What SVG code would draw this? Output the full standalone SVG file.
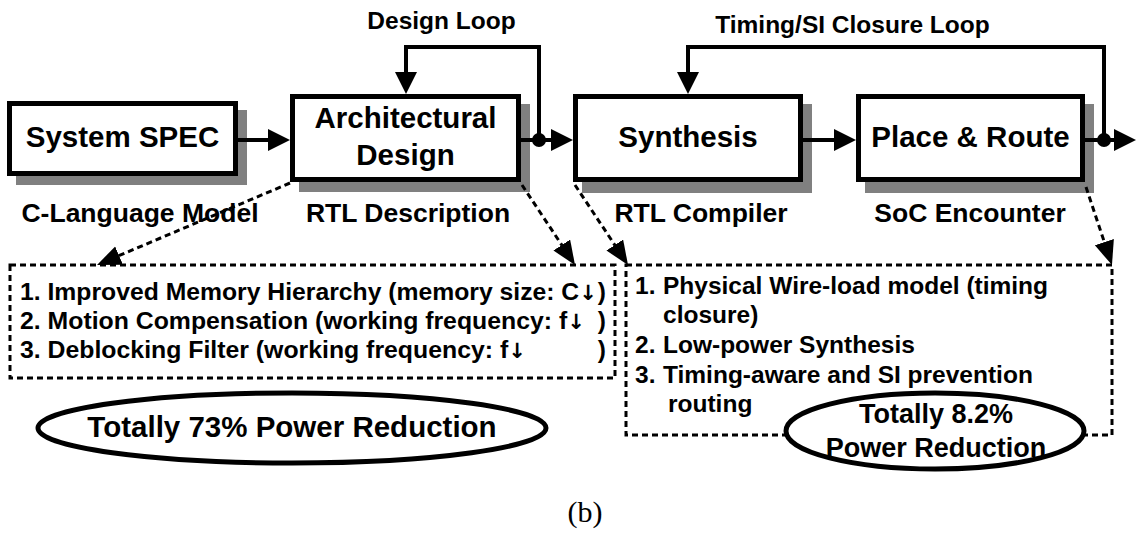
<svg xmlns="http://www.w3.org/2000/svg" width="1136" height="540" viewBox="0 0 1136 540">
<style>
.box{fill:#fff;stroke:#000;stroke-width:5}
.shadow{fill:#808080}
.bt{font-family:"Liberation Sans",Arial,sans-serif;font-weight:bold;font-size:29.5px;fill:#000;text-anchor:middle}
.lbl{font-family:"Liberation Sans",Arial,sans-serif;font-weight:bold;font-size:26.5px;fill:#000;text-anchor:middle}
.loopt{font-family:"Liberation Sans",Arial,sans-serif;font-weight:bold;font-size:24.5px;fill:#000;text-anchor:middle}
.it{font-family:"Liberation Sans",Arial,sans-serif;font-weight:bold;font-size:24.5px;fill:#000}
.arr{font-family:"DejaVu Sans",sans-serif;font-weight:bold;font-size:21px}
.solid{fill:none;stroke:#000;stroke-width:4}
.dash{fill:none;stroke:#000;stroke-width:3;stroke-dasharray:6,4}
.dbox{fill:none;stroke:#000;stroke-width:3;stroke-dasharray:6,4}
.ell{fill:#fff;stroke:#000;stroke-width:5}
</style>
<defs>
<marker id="ah" markerUnits="userSpaceOnUse" markerWidth="24" markerHeight="24" refX="12" refY="12" orient="auto">
<path d="M0,1 L22,12 L0,23 z" fill="#000"/>
</marker>
<marker id="dh" markerUnits="userSpaceOnUse" markerWidth="26" markerHeight="22" refX="14" refY="10" orient="auto">
<path d="M0,0 L24,10 L0,20 z" fill="#000"/>
</marker>
</defs>

<g id="dashed-boxes">
<rect class="dbox" x="10" y="265" width="605" height="113"/>
<rect class="dbox" x="626" y="265" width="486" height="170"/>
</g>

<g id="node-system-spec">
<rect class="shadow" x="16" y="110" width="231" height="75"/>
<rect class="box" x="9.5" y="103.5" width="226" height="70"/>
<text class="bt" x="122.5" y="147">System SPEC</text>
</g>

<g id="node-arch">
<rect class="shadow" x="299" y="104" width="231" height="88"/>
<rect class="box" x="292.5" y="96.5" width="226" height="83"/>
<text class="bt" x="405.5" y="128">Architectural</text>
<text class="bt" x="405.5" y="165">Design</text>
</g>

<g id="node-synthesis">
<rect class="shadow" x="582" y="104" width="230" height="89"/>
<rect class="box" x="575.5" y="96.5" width="225" height="83"/>
<text class="bt" x="688" y="147">Synthesis</text>
</g>

<g id="node-pr">
<rect class="shadow" x="865" y="104" width="229" height="89"/>
<rect class="box" x="858.5" y="96.5" width="224" height="83"/>
<text class="bt" x="970.5" y="147">Place &amp; Route</text>
</g>

<g id="loop-labels">
<text class="loopt" x="441.5" y="29">Design Loop</text>
<text class="loopt" x="852.5" y="33">Timing/SI Closure Loop</text>
</g>

<g id="tool-labels">
<text class="lbl" x="140" y="222">C-Language Model</text>
<text class="lbl" x="408" y="222">RTL Description</text>
<text class="lbl" x="701" y="222">RTL Compiler</text>
<text class="lbl" x="970" y="222">SoC Encounter</text>
</g>

<g id="connectors">
<path class="solid" d="M238,140 H280" marker-end="url(#ah)"/>
<path class="solid" d="M521,140 H563" marker-end="url(#ah)"/>
<path class="solid" d="M803,140 H846" marker-end="url(#ah)"/>
<path class="solid" d="M1085,140 H1126" marker-end="url(#ah)"/>
<path class="solid" d="M539,140 V47 H406 V84" marker-end="url(#ah)"/>
<path class="solid" d="M1104,140 V47 H688 V84" marker-end="url(#ah)"/>
<circle cx="539" cy="140" r="7" fill="#000"/>
<circle cx="1104" cy="140" r="7" fill="#000"/>
<path class="dash" d="M290,183 L106.2,261.1" marker-end="url(#dh)"/>
<path class="dash" d="M522,185 L569.5,256.7" marker-end="url(#dh)"/>
<path class="dash" d="M575,185 L622.5,256.7" marker-end="url(#dh)"/>
<path class="dash" d="M1086,187 L1108.8,255.5" marker-end="url(#dh)"/>
</g>

<g id="left-list">
<text class="it" x="20" y="300" textLength="577" lengthAdjust="spacingAndGlyphs">1. Improved Memory Hierarchy (memory size: C<tspan class="arr">↓</tspan></text>
<text class="it" x="606" y="300" text-anchor="end">)</text>
<text class="it" x="20" y="329" textLength="565" lengthAdjust="spacingAndGlyphs">2. Motion Compensation (working frequency: f<tspan class="arr">↓</tspan></text>
<text class="it" x="606" y="329" text-anchor="end">)</text>
<text class="it" x="20" y="358" textLength="506" lengthAdjust="spacingAndGlyphs">3. Deblocking Filter (working frequency: f<tspan class="arr">↓</tspan></text>
<text class="it" x="606" y="358" text-anchor="end">)</text>
</g>

<g id="right-list">
<text class="it" x="635" y="294">1.</text>
<text class="it" x="663" y="294">Physical Wire-load model (timing</text>
<text class="it" x="663" y="323">closure)</text>
<text class="it" x="635" y="353">2.</text>
<text class="it" x="663" y="353">Low-power Synthesis</text>
<text class="it" x="635" y="383">3.</text>
<text class="it" x="663" y="383">Timing-aware and SI prevention</text>
<text class="it" x="668" y="412">routing</text>
</g>

<g id="result-left">
<ellipse class="ell" cx="292" cy="428" rx="254" ry="35"/>
<text class="bt" x="292" y="437">Totally 73% Power Reduction</text>
</g>

<g id="result-right">
<ellipse class="ell" cx="935" cy="431" rx="149" ry="38"/>
<text class="bt" x="936" y="423" style="font-size:27px">Totally 8.2%</text>
<text class="bt" x="936" y="457" style="font-size:27px">Power Reduction</text>
</g>

<text x="585" y="522" style="font-family:'Liberation Serif','Times New Roman',serif;font-size:30px;text-anchor:middle;fill:#000">(b)</text>
</svg>
